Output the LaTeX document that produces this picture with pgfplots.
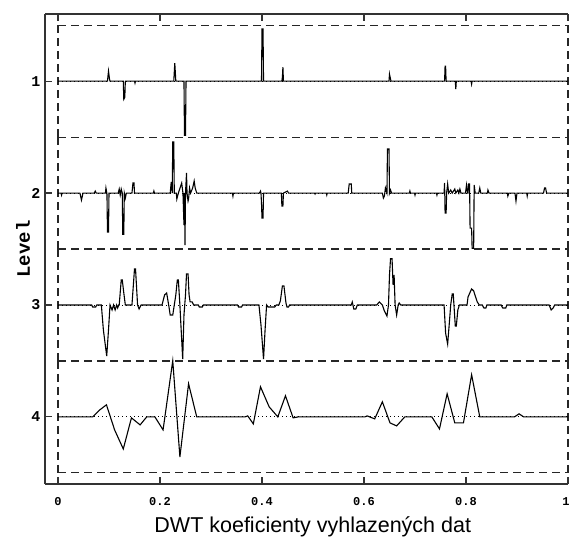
\documentclass[border=0pt]{standalone}
\usepackage{fontspec}
\setmainfont{Liberation Sans}
\newfontfamily\monofont{Liberation Mono}
\usepackage{pgfplots}
\usepackage{pgfplotstable}
\pgfplotsset{compat=1.18}

% columns: x (0..1), c = coefficient (plot units, upward positive)
\pgfplotstableread{
x c
0 0
0.097 0
0.099 10
0.101 2
0.102 0
0.128 0
0.129 -18
0.131 -16
0.132 0
0.150 0
0.151 -2
0.152 0
0.227 0
0.229 18
0.231 0
0.247 0
0.248 -54
0.250 -54
0.251 0
0.399 0
0.400 52
0.402 52
0.403 0
0.439 0
0.440 4
0.441 14
0.442 0
0.649 0
0.650 7
0.652 2
0.653 0
0.758 0
0.759 15
0.760 15
0.761 0
0.779 0
0.780 -8
0.781 0
0.810 0
0.811 -3
0.812 0
1 0
}\levA

\pgfplotstableread{
x c
0 0
0.006 0
0.007 -2
0.008 0
0.043 0
0.046 -7
0.049 0
0.071 0
0.073 2
0.075 0
0.093 0
0.094 5
0.096 -1
0.097 -39
0.099 -39
0.100 0
0.118 0
0.120 4
0.122 -2
0.124 4
0.126 0
0.127 -41
0.129 -41
0.130 0
0.132 -5
0.134 0
0.145 0
0.147 10
0.149 10
0.150 0
0.187 0
0.188 2
0.189 0
0.220 0
0.222 11
0.224 0
0.225 51
0.227 51
0.228 0
0.232 0
0.233 -6
0.236 0
0.2425 10
0.245 0
0.247 -32
0.248 0
0.249 -52
0.250 0
0.252 20
0.253 0
0.255 -8
0.256 -6
0.258 5
0.260 0
0.264 5
0.267 12
0.269 5
0.272 0
0.342 0
0.343 -3
0.344 0
0.395 0
0.397 2
0.398 0
0.399 -10
0.400 -25
0.402 -25
0.403 0
0.438 0
0.439 -13
0.441 -13
0.442 0
0.450 2
0.452 0
0.503 0
0.504 -1
0.505 0
0.526 0
0.527 -2
0.528 0
0.569 0
0.571 9
0.575 9
0.576 0
0.636 0
0.638 -5
0.640 -3
0.642 5
0.645 0
0.646 44
0.649 44
0.650 0
0.652 3
0.654 0
0.689 0
0.690 2
0.691 0
0.699 0
0.700 -2
0.701 0
0.742 0
0.743 -2
0.744 0
0.757 0
0.758 10
0.759 -20
0.761 -20
0.762 0
0.764 9
0.766 0
0.770 3
0.773 0
0.778 4
0.780 0
0.784 3
0.786 0
0.788 4
0.790 0
0.799 0
0.801 8
0.803 0
0.804 0
0.805 9
0.807 9
0.808 -35
0.811 -35
0.812 -55
0.815 -55
0.816 8
0.818 0
0.825 0
0.827 5
0.829 0
0.842 0
0.843 3
0.845 0
0.881 0
0.882 -3
0.884 0
0.896 0
0.898 -8
0.900 0
0.919 0
0.920 -3
0.921 0
0.952 0
0.954 5
0.956 5
0.958 0
1 0
}\levB

\pgfplotstableread{
x c
0 0
0.066 0
0.068 -2
0.074 -2
0.076 0
0.085 0
0.089 -25
0.0955 -51
0.099 -25
0.102 0
0.106 -5
0.109 0
0.112 -5
0.115 0
0.117 -3
0.119 0
0.120 0
0.124 25
0.126 25
0.129 12
0.132 0
0.145 0
0.150 36
0.152 36
0.156 0
0.159 -4
0.163 0
0.204 0
0.209 10
0.213 12
0.217 0
0.220 -10
0.225 -10
0.228 0
0.231 10
0.234 25
0.236 25
0.239 0
0.241 -20
0.2445 -54
0.247 -10
0.250 10
0.252 31
0.255 31
0.257 10
0.259 3
0.263 3
0.266 0
0.275 0
0.277 -2
0.283 -2
0.285 0
0.352 0
0.354 -2
0.360 -2
0.362 0
0.394 0
0.398 -20
0.403 -54
0.406 -25
0.409 0
0.412 -2
0.425 -2
0.428 0
0.433 0
0.436 4
0.440 19
0.443 19
0.447 2
0.449 -2
0.452 -2
0.454 0
0.575 0
0.577 3
0.580 -4
0.584 -4
0.587 0
0.625 0
0.630 3
0.636 0
0.640 -6
0.645 -11
0.648 0
0.650 30
0.652 46
0.655 46
0.657 20
0.659 30
0.661 0
0.664 -10
0.667 0
0.669 2
0.672 0
0.757 0
0.760 -28
0.764 -39
0.767 -20
0.770 0
0.773 11
0.775 11
0.777 -5
0.779 -21
0.781 -21
0.784 -5
0.787 0
0.802 0
0.804 8
0.811 16
0.815 14
0.822 3
0.826 0
0.832 0
0.835 -3
0.839 -3
0.841 0
0.869 0
0.872 -3
0.878 -3
0.880 0
0.963 0
0.967 -5
0.971 -3
0.974 0
1 0
}\levC

\pgfplotstableread{
x c
0 0
0.068 0
0.082 7
0.095 12
0.111 -13
0.128 -32
0.144 -1
0.161 -8
0.174 0
0.190 0
0.206 -13
0.225 56
0.239 -40
0.256 33
0.272 0
0.367 0
0.372 1
0.383 -7
0.397 30
0.414 10
0.431 0
0.446 21
0.461 -1
0.471 0
0.602 0
0.606 1
0.621 -2
0.636 15
0.651 -6
0.664 -9
0.680 0
0.733 0
0.748 -12
0.763 23
0.778 -6
0.795 -6
0.811 42
0.827 0
0.895 0
0.904 3
0.913 0
1 0
}\levD

\begin{document}
\begin{tikzpicture}
\path[use as bounding box] (-45bp,-58bp) rectangle (525bp,484bp);
\begin{axis}[
  at={(0,0)}, anchor=south west,
  scale only axis, width=523bp, height=470bp,
  xmin=-0.0255, xmax=1, ymin=0.4, ymax=4.6, y dir=reverse,
  axis x line=box, axis y line=left,
  axis line style={-, line width=1.5bp, black!80},
  xtick={0,0.2,0.4,0.6,0.8,1},
  xticklabels={0,0.2,0.4,0.6,0.8,\llap{1\hspace{-1.5bp}}},
  ytick={1,2,3,4},
  yticklabels={1,2,3,4},
  xtick pos=both, ytick pos=left,
  tick align=inside,
  major tick length=7bp,
  tick style={line width=1.2bp, black!80},
  xticklabel style={font=\monofont\bfseries\fontsize{12bp}{14bp}\selectfont, anchor=base, yshift=-21bp},
  yticklabel style={font=\monofont\bfseries\fontsize{15bp}{17bp}\selectfont, anchor=east, xshift=-1bp},
  xlabel={DWT koeficienty vyhlazených dat},
  xlabel style={font=\fontsize{21.5bp}{24bp}\selectfont, at={(axis description cs:0.512,-0.104)}, anchor=base},
  ylabel={Level},
  ylabel style={font=\monofont\bfseries\fontsize{19bp}{21bp}\selectfont, at={(axis description cs:-0.042,0.5)}, anchor=center},
  clip=false,
]
% dashed band frames
\pgfplotsinvokeforeach{0.5,1.5,2.5,3.5,4.5}{
  \addplot[line width=1.2bp, black!85, dash pattern=on 8bp off 5bp] coordinates {(0,#1) (1,#1)};
}
\pgfplotsinvokeforeach{1,2,3,4}{
  \addplot[line width=1.2bp, black!85, dash pattern=on 8bp off 5bp] coordinates {(0,#1-0.5) (0,#1+0.5)};
  \addplot[line width=1.2bp, black!85, dash pattern=on 8bp off 5bp] coordinates {(1,#1-0.5) (1,#1+0.5)};
  \addplot[line width=0.8bp, black, dash pattern=on 1bp off 3bp] coordinates {(0,#1) (1,#1)};
}
% signals
\addplot[line width=1.1bp, black] table[x=x, y expr=1-\thisrow{c}/111.5] {\levA};
\addplot[line width=1.1bp, black] table[x=x, y expr=2-\thisrow{c}/111.5] {\levB};
\addplot[line width=1.1bp, black] table[x=x, y expr=3-\thisrow{c}/111.5] {\levC};
\addplot[line width=1.1bp, black] table[x=x, y expr=4-\thisrow{c}/111.5] {\levD};
\end{axis}
\end{tikzpicture}
\end{document}
